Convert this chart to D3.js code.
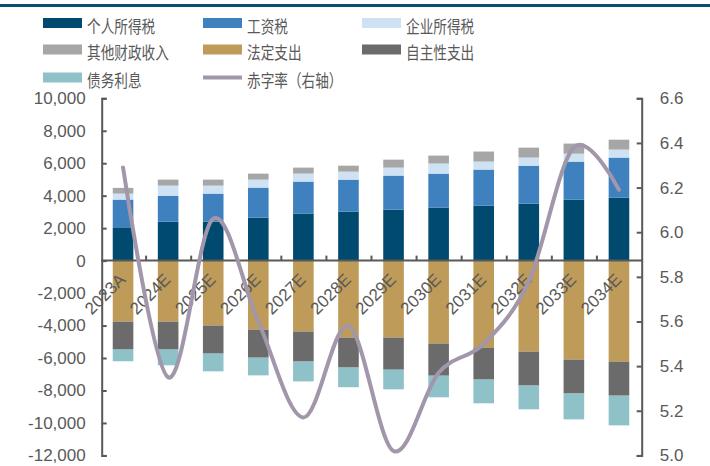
<!DOCTYPE html>
<html>
<head>
<meta charset="utf-8">
<script src="https://cdn.jsdelivr.net/npm/d3@7"></script>
<style>
  html, body { margin: 0; padding: 0; background: #fff; }
  svg { display: block; }
</style>
</head>
<body>
<svg id="chart" width="710" height="466"></svg>
<script>
// Fiscal years on the category axis
const categories = ["2023A","2024E","2025E","2026E","2027E","2028E","2029E","2030E","2031E","2032E","2033E","2034E"];

// Revenue components (positive, stacked upward)
const personalIncomeTax = [2050, 2400, 2400, 2650, 2900, 3020, 3140, 3270, 3390, 3510, 3760, 3880];
const payrollTax        = [1710, 1600, 1730, 1850, 1970, 1970, 2100, 2090, 2220, 2340, 2340, 2470];
const corporateTax      = [370, 620, 490, 490, 490, 490, 490, 620, 490, 500, 490, 490];
const otherRevenue      = [350, 370, 370, 370, 370, 370, 490, 490, 620, 610, 620, 610];

// Outlay components (negative, stacked downward)
const mandatorySpending     = [-3760, -3760, -4000, -4250, -4370, -4740, -4740, -5110, -5360, -5610, -6100, -6220];
const discretionarySpending = [-1720, -1720, -1730, -1730, -1850, -1850, -1980, -1980, -1970, -2090, -2090, -2100];
const netInterest           = [-720, -970, -1090, -1090, -1220, -1210, -1210, -1330, -1460, -1460, -1590, -1830];

// Deficit ratio, right axis
const deficitRate = [6.29, 5.35, 6.06, 5.60, 5.17, 5.58, 5.02, 5.37, 5.50, 5.78, 6.38, 6.19];

// Axis ticks
const leftTicks  = [10000, 8000, 6000, 4000, 2000, 0, -2000, -4000, -6000, -8000, -10000, -12000];
const rightTicks = [6.6, 6.4, 6.2, 6.0, 5.8, 5.6, 5.4, 5.2, 5.0];

// Series names and colours
const seriesKeys   = ["个人所得税","工资税","企业所得税","其他财政收入","法定支出","自主性支出","债务利息"];
const seriesColors = ["#004a6f","#3f80bf","#cfe2f3","#a6a6a6","#bf9b59","#6b6b6b","#8ec1c8"];
const lineName  = "赤字率（右轴）";
const lineColor = "#a296ab";

const seriesValues = [personalIncomeTax, payrollTax, corporateTax, otherRevenue,
                      mandatorySpending, discretionarySpending, netInterest];

const rows = categories.map((c, i) => {
  const r = { year: c };
  seriesKeys.forEach((k, j) => { r[k] = seriesValues[j][i]; });
  return r;
});

const svg = d3.select("#chart");
const axisColor = "#595959";
const numFont = "'Liberation Sans', Arial, sans-serif";
const cjkFont = "'Noto Sans CJK SC', sans-serif";

// Top rule
svg.append("rect").attr("x", 0).attr("y", 4).attr("width", 710).attr("height", 3).attr("fill", "#0c4d72");

// Scales
const x = d3.scaleBand().domain(categories).range([101, 642]).padding(0);
const yL = d3.scaleLinear().domain([-12000, 10000]).range([455.4, 98.3]);
const yR = d3.scaleLinear().domain([5.0, 6.6]).range([455.4, 98.3]);
const barW = x.bandwidth() * 0.457;
const barOff = (x.bandwidth() - barW) / 2 - 0.5;

// Stacked bars
const stack = d3.stack().keys(seriesKeys).offset(d3.stackOffsetDiverging);
const layers = stack(rows);

svg.append("g").selectAll("g")
  .data(layers)
  .join("g")
  .attr("fill", (d, i) => seriesColors[i])
  .selectAll("rect")
  .data(d => d)
  .join("rect")
  .attr("x", d => x(d.data.year) + barOff)
  .attr("width", barW)
  .attr("y", d => yL(Math.max(d[0], d[1])))
  .attr("height", d => Math.abs(yL(d[0]) - yL(d[1])));

// Thousands with a plain hyphen for negatives
const fmtThousands = d => d3.format(",")(d).replace("\u2212", "-");

// Left axis
const leftAxis = svg.append("g")
  .attr("transform", "translate(101.7,0)")
  .call(d3.axisLeft(yL).tickValues(leftTicks).tickSize(-5).tickPadding(16).tickFormat(fmtThousands));
// Right axis
const rightAxis = svg.append("g")
  .attr("transform", "translate(641.7,0)")
  .call(d3.axisRight(yR).tickValues(rightTicks).tickSize(-5).tickPadding(18).tickFormat(d3.format(".1f")));

[leftAxis, rightAxis].forEach(g => {
  g.selectAll("path, line").attr("stroke", axisColor).attr("stroke-width", 2);
  g.selectAll("text").attr("fill", axisColor).attr("font-family", numFont).attr("font-size", 17);
});

// Category axis along zero
const y0 = yL(0);
const xAxis = svg.append("g");
xAxis.append("line")
  .attr("x1", 101).attr("x2", 642).attr("y1", y0).attr("y2", y0)
  .attr("stroke", axisColor).attr("stroke-width", 2);
xAxis.selectAll("line.tick")
  .data(categories.slice(1))
  .join("line")
  .attr("class", "tick")
  .attr("x1", d => x(d)).attr("x2", d => x(d))
  .attr("y1", y0 - 5).attr("y2", y0)
  .attr("stroke", axisColor).attr("stroke-width", 2);
xAxis.selectAll("text")
  .data(categories)
  .join("text")
  .attr("transform", d => `translate(${x(d) + x.bandwidth() / 2 + 3},${y0 + 20}) rotate(-45)`)
  .attr("text-anchor", "end")
  .attr("fill", axisColor)
  .attr("font-family", numFont)
  .attr("font-size", 17)
  .text(d => d);

// Deficit ratio line
const line = d3.line()
  .x((d, i) => x(categories[i]) + x.bandwidth() / 2 - 0.5)
  .y(d => yR(d))
  .curve(d3.curveCardinal.tension(0));
svg.append("path")
  .datum(deficitRate)
  .attr("d", line)
  .attr("fill", "none")
  .attr("stroke", lineColor)
  .attr("stroke-width", 4)
  .attr("stroke-linecap", "round");

// Legend
const legendCols = [43, 203, 362];
const legendRows = [23, 49.5, 77.5];
const legendItems = seriesKeys.map((k, i) => ({ name: k, color: seriesColors[i], type: "rect" }))
  .concat([{ name: lineName, color: lineColor, type: "line" }]);

const legend = svg.append("g");
legendItems.forEach((item, i) => {
  const cx = legendCols[i % 3];
  const cy = legendRows[Math.floor(i / 3)];
  const g = legend.append("g");
  if (item.type === "rect") {
    g.append("rect").attr("x", cx).attr("y", cy - 5).attr("width", 39).attr("height", 10).attr("fill", item.color);
  } else {
    g.append("line").attr("x1", cx).attr("x2", cx + 39).attr("y1", cy).attr("y2", cy)
      .attr("stroke", item.color).attr("stroke-width", 4);
  }
  g.append("text")
    .attr("transform", `translate(${cx + 44},${cy + 2.5}) scale(0.78,1)`)
    .attr("dominant-baseline", "central")
    .attr("font-family", cjkFont)
    .attr("font-size", 17.5)
    .attr("fill", axisColor)
    .text(item.name);
});
</script>
</body>
</html>
